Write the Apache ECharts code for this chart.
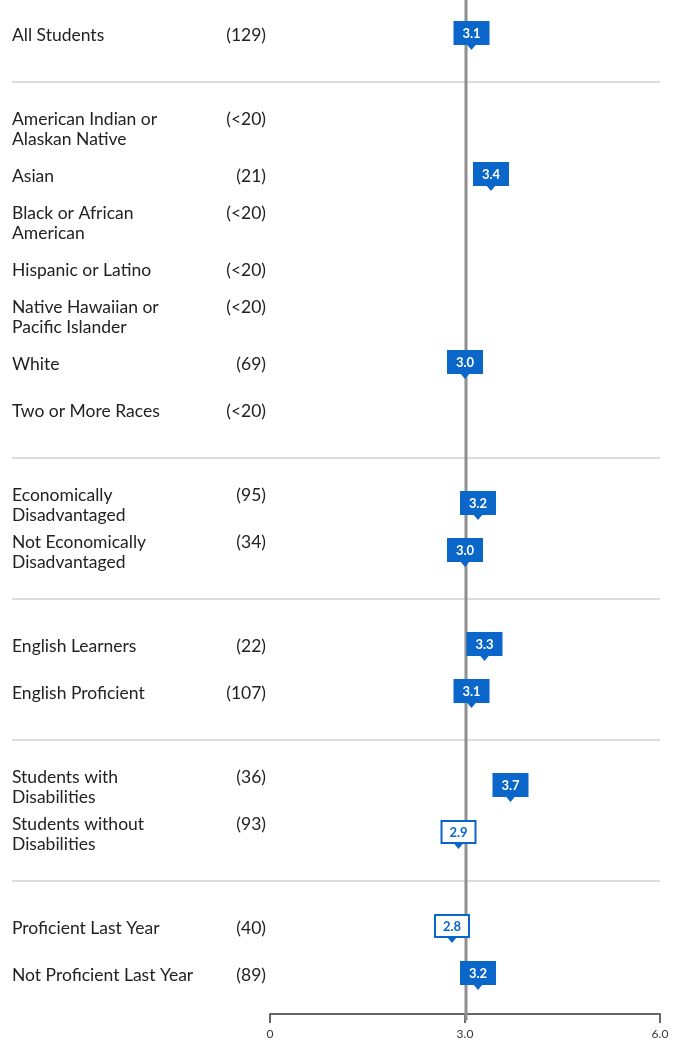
<!DOCTYPE html>
<html><head><meta charset="utf-8">
<script src="https://cdn.jsdelivr.net/npm/echarts@6/dist/echarts.min.js"></script>
<style>html,body{margin:0;padding:0;background:#fff}#c{width:683px;height:1042px}</style>
</head><body><div id="c"></div>
<script>
// ---- data ----
const labels = ['All Students','American Indian or\nAlaskan Native','Asian','Black or African\nAmerican','Hispanic or Latino','Native Hawaiian or\nPacific Islander','White','Two or More Races','Economically\nDisadvantaged','Not Economically\nDisadvantaged','English Learners','English Proficient','Students with\nDisabilities','Students without\nDisabilities','Proficient Last Year','Not Proficient Last Year'];
const counts = ['(129)','(<20)','(21)','(<20)','(<20)','(<20)','(69)','(<20)','(95)','(34)','(22)','(107)','(36)','(93)','(40)','(89)'];
const scores = [3.1, null, 3.4, null, null, null, 3.0, null, 3.2, 3.0, 3.3, 3.1, 3.7, 2.9, 2.8, 3.2];
const groupSizes = [1, 7, 2, 2, 2, 2];
const referenceValue = 3.0;
const xTickValues = [0, 3, 6];

// ---- build slots ----
const slots = []; const rowSlot = []; const sepSlots = [];
let k = 0;
groupSizes.forEach((n, g) => {
  if (g > 0) { sepSlots.push(slots.length); slots.push('sep' + g); }
  for (let i = 0; i < n; i++) { rowSlot.push(slots.length); slots.push('row' + k); k++; }
});
const BLUE = '#0a66c9';
const FONT = 'Lato, "Noto Sans", sans-serif';

const labelData = labels.map((l, i) => [0, rowSlot[i], i]);
const markerData = scores.map((s, i) => s == null ? null : [s, rowSlot[i]]).filter(d => d);
const sepData = sepSlots.map(s => [0, s]);

const chart = echarts.init(document.getElementById('c'), null, {renderer: 'canvas'});
chart.setOption({
  animation: false,
  grid: {left: 270, right: 23, top: 10.5, bottom: 44.5},
  xAxis: {
    type: 'value', min: 0, max: 6, interval: 3, offset: 16.5,
    splitLine: {show: false},
    axisLine: {show: true, lineStyle: {color: '#666', width: 2}},
    axisTick: {show: true, length: 9, lineStyle: {color: '#666', width: 2}},
    axisLabel: {margin: 14, color: '#333', fontSize: 12, fontFamily: FONT,
      formatter: v => xTickValues.includes(v) ? (v === 0 ? '0' : v.toFixed(1)) : ''}
  },
  yAxis: {type: 'category', inverse: true, data: slots, show: false},
  series: [
    {
      type: 'custom', z: 1, clip: false, data: sepData, silent: true,
      renderItem(params, api) {
        const y = api.coord([0, api.value(1)])[1] + 1;
        const cs = params.coordSys;
        return {type: 'line', shape: {x1: 12, y1: y, x2: cs.x + cs.width, y2: y},
          style: {stroke: '#d0d0d0', lineWidth: 1.5}};
      }
    },
    {
      type: 'custom', z: 2, clip: false, data: [[referenceValue, 0]], silent: true,
      renderItem(params, api) {
        const x = api.coord([api.value(0), 0])[0];
        const cs = params.coordSys;
        return {type: 'line', shape: {x1: x + 1, y1: 0, x2: x + 1, y2: cs.y + cs.height + 23},
          style: {stroke: '#8f8f8f', lineWidth: 3}};
      }
    },
    {
      type: 'custom', z: 3, clip: false, data: labelData, silent: true,
      renderItem(params, api) {
        const y = api.coord([0, api.value(1)])[1] + 1;
        const i = api.value(2);
        const nLines = labels[i].split('\n').length;
        const lh = 20;
        return {type: 'group', children: [
          {type: 'text', x: 12, y: y, style: {text: labels[i], fill: '#222', font: '17.5px ' + FONT,
            lineHeight: lh, align: 'left', verticalAlign: 'middle'}},
          {type: 'text', x: 266, y: y - (nLines - 1) * lh / 2, style: {text: counts[i], fill: '#222',
            font: '17.5px ' + FONT, align: 'right', verticalAlign: 'middle'}}
        ]};
      }
    },
    {
      type: 'custom', z: 4, clip: false, data: markerData, encode: {x: 0, y: 1},
      renderItem(params, api) {
        const v = api.value(0);
        const p = api.coord([v, api.value(1)]);
        const filled = v >= referenceValue;
        const w = 36, h = 24, cy = p[1] - 1;
        return {type: 'group', children: [
          {type: 'polygon', shape: {points: [[p[0] - 5, cy + h / 2 - 1], [p[0] + 5, cy + h / 2 - 1], [p[0], cy + h / 2 + 5]]},
            style: {fill: BLUE}},
          {type: 'rect', shape: {x: p[0] - w / 2 + (filled ? 0 : 1), y: cy - h / 2 + (filled ? 0 : 1), width: w - (filled ? 0 : 2), height: h - (filled ? 0 : 2)},
            style: {fill: filled ? BLUE : '#fff', stroke: BLUE, lineWidth: filled ? 0 : 2}},
          {type: 'text', x: p[0], y: cy + 0.5, style: {text: v.toFixed(1), fill: filled ? '#fff' : BLUE,
            font: 'bold 13px ' + FONT, align: 'center', verticalAlign: 'middle'}}
        ]};
      }
    }
  ]
});
</script></body></html>
